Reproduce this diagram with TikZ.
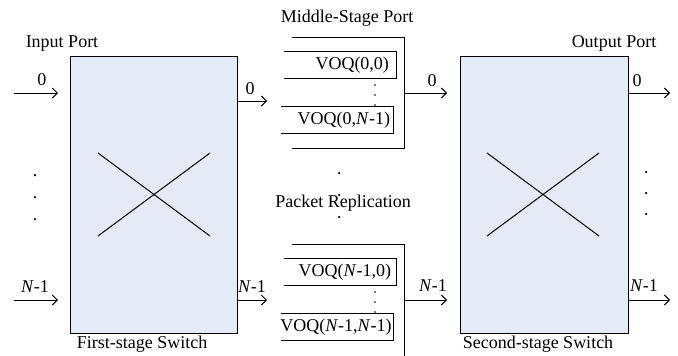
\documentclass[tikz,border=0pt]{standalone}
\usepackage{fontspec}
\setmainfont{Liberation Serif}
\usetikzlibrary{arrows.meta}
\definecolor{swfill}{RGB}{229,235,246}
\begin{document}
\begin{tikzpicture}[x=1pt,y=-1pt,
  every node/.style={font=\fontsize{18}{21}\selectfont, inner sep=0pt},
  switchbox/.style={draw, fill=swfill, line width=1pt, minimum width=167pt, minimum height=277pt},
  arr/.style={line width=1pt, -{Straight Barb[length=5pt,width=10pt]}},
  ln/.style={line width=1pt},
  voqbox/.style={minimum width=112pt, minimum height=26pt},
  dot/.style={circle, fill, minimum size=2.5pt},
  sdot/.style={circle, fill, minimum size=1.6pt}]
\useasboundingbox (0,0) rectangle (678,356);

% switches
\node[switchbox] (s1) at (153.5,194.5) {};
\node[switchbox, minimum width=168pt] (s2) at (544,194.5) {};
\draw[ln] (98,153) -- (210,236) (98,236) -- (210,153);
\draw[ln] (487,153) -- (599,236) (487,236) -- (599,153);

% titles
\node (tin) at (62,44) {Input Port};
\node (tout) at (614,43) {Output Port};
\node (tmid) at (347,18) {Middle-Stage Port};
\node (trep) at (343,203) {Packet Replication};
\node (tfs) at (142,344) {First-stage Switch};
\node (tss) at (538,344) {Second-stage Switch};

% input arrows
\coordinate (i0s) at (14,93);  \coordinate (i0e) at (58,93);
\coordinate (i1s) at (14,300); \coordinate (i1e) at (58,300);
\draw[arr] (i0s) -- (i0e);
\draw[arr] (i1s) -- (i1e);
\node (li0) at (42,80) {0};
\node (li1) at (35,287) {\textit{N}-1};
\node[dot] (ld1) at (35,175) {};
\node[dot] (ld2) at (35,197) {};
\node[dot] (ld3) at (35,219) {};

% first stage outputs
\coordinate (f0s) at (237,101); \coordinate (f0e) at (267,101);
\coordinate (f1s) at (237,300); \coordinate (f1e) at (267,300);
\draw[arr] (f0s) -- (f0e);
\draw[arr] (f1s) -- (f1e);
\node (lf0) at (250,89) {0};
\node (lf1) at (252,287) {\textit{N}-1};

% middle stage port 0
\draw[ln] (292,37) -- (404,37) -- (404,148) -- (292,148);
\node[voqbox] (q00) at (340,65) {};
\node[voqbox] (q01) at (337,120) {};
\foreach \q in {q00,q01}
  \draw[ln] (\q.north west) -- (\q.north east) -- (\q.south east) -- (\q.south west);
\node[anchor=east] (q00t) at ([xshift=-7pt]q00.east) {VOQ(0,0)};
\node[anchor=east] (q01t) at ([xshift=-3pt]q01.east) {VOQ(0,\textit{N}-1)};
\node[sdot] (qd1) at (375,85) {};
\node[sdot] (qd2) at (375,95) {};
\node[sdot] (qd3) at (375,105) {};
\coordinate (m0s) at (404,93); \coordinate (m0e) at (447,93);
\draw[arr] (m0s) -- (m0e);
\node (lm0) at (432,81) {0};

% between
\node[dot] (md1) at (339,173) {};
\node[dot] (md2) at (339,195) {};
\node[dot] (md3) at (339,217) {};

% middle stage port N-1
\draw[ln] (292,244) -- (404,244) -- (404,358);
\node[voqbox] (q10) at (340,272) {};
\node[voqbox] (q11) at (337,327) {};
\foreach \q in {q10,q11}
  \draw[ln] (\q.north west) -- (\q.north east) -- (\q.south east) -- (\q.south west);
\node[anchor=east] (q10t) at ([xshift=-5pt]q10.east) {VOQ(\textit{N}-1,0)};
\node[anchor=east] (q11t) at ([xshift=-1.5pt]q11.east) {VOQ(\textit{N}-1,\textit{N}-1)};
\node[sdot] (qd4) at (375,292) {};
\node[sdot] (qd5) at (375,302) {};
\node[sdot] (qd6) at (375,312) {};
\coordinate (m1s) at (404,300); \coordinate (m1e) at (447,300);
\draw[arr] (m1s) -- (m1e);
\node (lm1) at (433,286) {\textit{N}-1};

% second stage outputs
\coordinate (o0s) at (628,93);  \coordinate (o0e) at (670,93);
\coordinate (o1s) at (628,300); \coordinate (o1e) at (670,300);
\draw[arr] (o0s) -- (o0e);
\draw[arr] (o1s) -- (o1e);
\node (lo0) at (637,81) {0};
\node (lo1) at (644,286) {\textit{N}-1};
\node[dot] (rd1) at (646,172) {};
\node[dot] (rd2) at (646,193) {};
\node[dot] (rd3) at (646,214) {};
\end{tikzpicture}
\end{document}
